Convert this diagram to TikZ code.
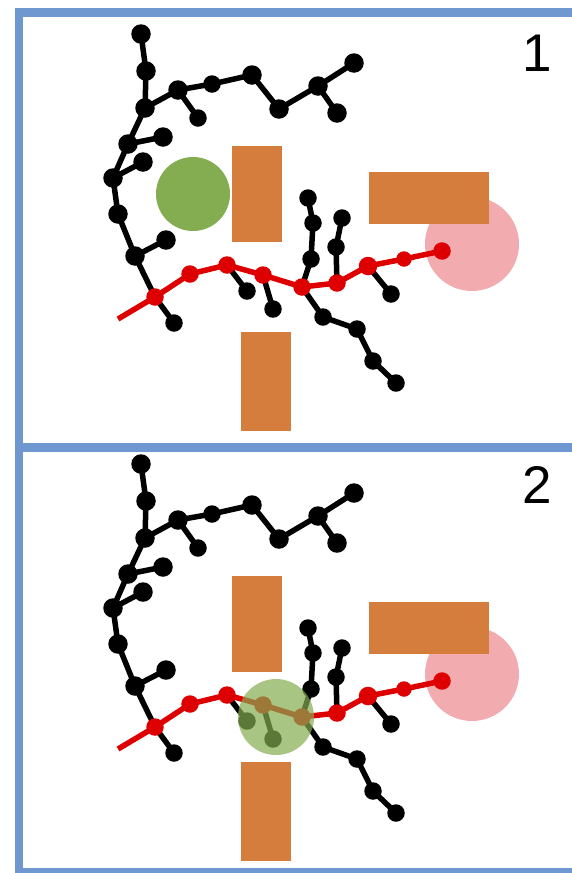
\documentclass[tikz,border=0pt]{standalone}
\usepackage{fontspec}
\setmainfont{Liberation Sans}

\definecolor{frameblue}{RGB}{112,152,208}
\definecolor{leafgreen}{RGB}{132,172,80}
\definecolor{blockorange}{RGB}{213,125,60}
\definecolor{chainred}{RGB}{222,0,0}
\definecolor{targetpink}{RGB}{242,172,176}

\pgfdeclarelayer{back}
\pgfdeclarelayer{bonds}
\pgfsetlayers{back,bonds,main}

\tikzset{
  atom/.style={circle, fill=black, inner sep=0pt, minimum size=17.5pt},
  bigatom/.style={atom, minimum size=19.5pt},
  ratom/.style={circle, fill=chainred, inner sep=0pt, minimum size=17.5pt},
  bond/.style={line width=5.5pt, draw=black, line cap=round, line join=round},
  rbond/.style={line width=5.5pt, draw=chainred, line join=round},
  block/.style={fill=blockorange},
  panelnum/.style={inner sep=0pt, font=\fontsize{53}{60}\selectfont},
}

% One panel of the chain model; #1 = name prefix, #2 = downward offset (pt)
\newcommand\drawpanel[2]{%
\begin{scope}[yshift=-#2pt]
  \begin{pgfonlayer}{back}
    \fill[targetpink] (472,244) circle[radius=47];
    \fill[block] (232,146) rectangle (282,242);
    \fill[block] (241,332) rectangle (291,431);
    \fill[block] (369,172) rectangle (489,224);
  \end{pgfonlayer}
  % backbone on the left
  \node[bigatom] (#1a1) at (141,34) {};
  \node[bigatom] (#1a2) at (146,71) {};
  \node[bigatom] (#1a3) at (145,108) {};
  \node[bigatom] (#1a4) at (128,144) {};
  \node[bigatom] (#1a5) at (113,178) {};
  \node[bigatom] (#1a6) at (118,214) {};
  \node[bigatom] (#1a7) at (135,256) {};
  \node[atom] (#1t1) at (174,323) {};
  % upper arm
  \node[bigatom] (#1b1) at (178,90) {};
  \node[atom] (#1b2) at (212,84) {};
  \node[bigatom] (#1b3) at (252,75) {};
  \node[bigatom] (#1b4) at (279,109) {};
  \node[bigatom] (#1b5) at (318,86) {};
  \node[bigatom] (#1b6) at (354,63) {};
  \node[bigatom] (#1b7) at (337,113) {};
  \node[atom] (#1b8) at (198,118) {};
  % side groups of the backbone
  \node[bigatom] (#1s4) at (163,137) {};
  \node[bigatom] (#1s5) at (143,162) {};
  \node[bigatom] (#1s7) at (166,240) {};
  % side groups of the red chain
  \node[atom] (#1c3) at (247,291) {};
  \node[atom] (#1c4) at (273,309) {};
  \node[atom] (#1c7) at (391,294) {};
  \node[atom] (#1u1) at (311,259) {};
  \node[atom] (#1u2) at (313,223) {};
  \node[atom] (#1u3) at (308,198) {};
  \node[atom] (#1v1) at (336,247) {};
  \node[atom] (#1v2) at (342,218) {};
  \node[atom] (#1d1) at (323,317) {};
  \node[atom] (#1d2) at (357,329) {};
  \node[atom] (#1d3) at (373,361) {};
  \node[atom] (#1d4) at (396,383) {};
  % red chain
  \coordinate (#1r0) at (118,319);
  \node[ratom] (#1r1) at (155,297) {};
  \node[ratom] (#1r2) at (190,274) {};
  \node[ratom] (#1r3) at (227,265) {};
  \node[ratom] (#1r4) at (263,275) {};
  \node[ratom] (#1r5) at (302,287) {};
  \node[ratom] (#1r6) at (337,283) {};
  \node[ratom, minimum size=18.5pt] (#1r7) at (368,266) {};
  \node[ratom, minimum size=15.5pt] (#1r8) at (404,259) {};
  \node[ratom] (#1r9) at (442,251) {};
  \begin{pgfonlayer}{bonds}
    \draw[bond] (#1a1.center) -- (#1a2.center) -- (#1a3.center) -- (#1a4.center)
      -- (#1a5.center) -- (#1a6.center) -- (#1a7.center) -- (#1r1.center) -- (#1t1.center);
    \draw[bond] (#1a3.center) -- (#1b1.center) -- (#1b2.center) -- (#1b3.center)
      -- (#1b4.center) -- (#1b5.center) -- (#1b6.center);
    \draw[bond] (#1b5.center) -- (#1b7.center);
    \draw[bond] (#1b1.center) -- (#1b8.center);
    \draw[bond] (#1a4.center) -- (#1s4.center);
    \draw[bond] (#1a5.center) -- (#1s5.center);
    \draw[bond] (#1a7.center) -- (#1s7.center);
    \draw[bond] (#1r3.center) -- (#1c3.center);
    \draw[bond] (#1r4.center) -- (#1c4.center);
    \draw[bond] (#1r7.center) -- (#1c7.center);
    \draw[bond] (#1r5.center) -- (#1u1.center) -- (#1u2.center) -- (#1u3.center);
    \draw[bond] (#1r6.center) -- (#1v1.center) -- (#1v2.center);
    \draw[bond] (#1r5.center) -- (#1d1.center) -- (#1d2.center) -- (#1d3.center) -- (#1d4.center);
    \draw[rbond] (#1r0) -- (#1r1.center) -- (#1r2.center) -- (#1r3.center) -- (#1r4.center)
      -- (#1r5.center) -- (#1r6.center) -- (#1r7.center) -- (#1r8.center) -- (#1r9.center);
  \end{pgfonlayer}
\end{scope}}

\begin{document}
\begin{tikzpicture}[x=1pt, y=-1pt]
  \useasboundingbox (0,0) rectangle (572,873);

  % frame
  \fill[frameblue] (15,7.5) rectangle (23,873);
  \fill[frameblue] (15,7.5) rectangle (572,17);
  \fill[frameblue] (15,443) rectangle (572,451.5);
  \fill[frameblue] (15,868) rectangle (572,873);

  % panel 1
  \drawpanel{p}{0}
  \fill[leafgreen] (193,194) circle[radius=37];
  \node[panelnum] (num1) at (537,53) {1};

  % panel 2
  \drawpanel{q}{430}
  \fill[leafgreen, opacity=0.7] (276,717) circle[radius=38];
  \node[panelnum] (num2) at (537,485) {2};
\end{tikzpicture}
\end{document}
